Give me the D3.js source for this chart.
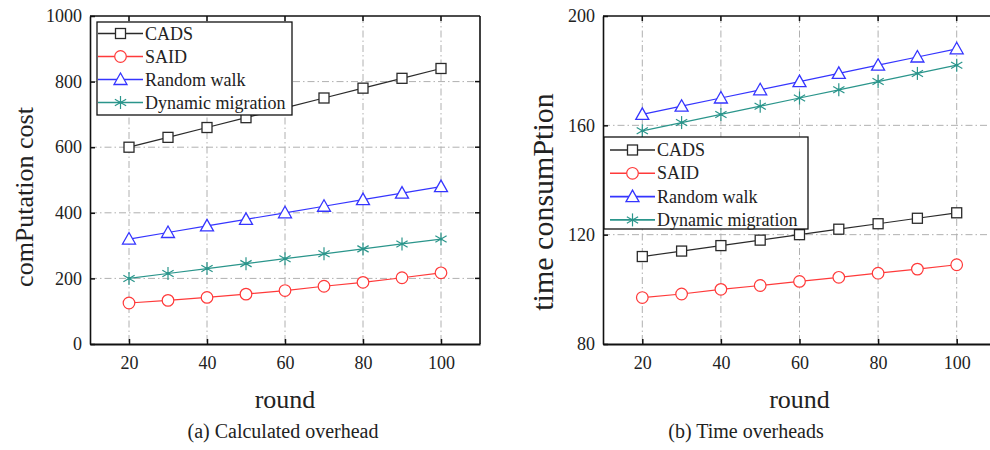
<!DOCTYPE html>
<html>
<head>
<meta charset="utf-8">
<script src="https://cdn.jsdelivr.net/npm/d3@7"></script>
<style>
  html, body { margin: 0; padding: 0; background: #fff; }
  svg { display: block; }
  svg text { font-family: "Liberation Serif", "Times New Roman", serif; }
</style>
</head>
<body>
<svg id="fig" width="990" height="450"></svg>
<script>
// Shared x values (rounds)
const rounds = [20, 30, 40, 50, 60, 70, 80, 90, 100];
const xTicks = [20, 40, 60, 80, 100];

// (a) Calculated overhead: computation cost per round
const costCADS    = [600, 630, 660, 690, 720, 750, 780, 810, 840];
const costSAID    = [125, 133, 142, 152, 163, 176, 188, 202, 217];
const costRandom  = [320, 340, 360, 380, 400, 420, 440, 460, 480];
const costDynamic = [200, 215, 230, 245, 260, 275, 290, 305, 320];
const costTicks   = [0, 200, 400, 600, 800, 1000];

// (b) Time overheads: time consumption per round
const timeCADS    = [112, 114, 116, 118, 120, 122, 124, 126, 128];
const timeSAID    = [97, 98.3, 100, 101.4, 102.9, 104.4, 105.9, 107.4, 109];
const timeRandom  = [164, 167, 170, 173, 176, 179, 182, 185, 188];
const timeDynamic = [158, 161, 164, 167, 170, 173, 176, 179, 182];
const timeTicks   = [80, 120, 160, 200];

const seriesNames = ["CADS", "SAID", "Random walk", "Dynamic migration"];

const style = {
  "CADS":              { color: "#2a2a2a", marker: "square" },
  "SAID":              { color: "#ff3a3a", marker: "circle" },
  "Random walk":       { color: "#3535ff", marker: "triangle" },
  "Dynamic migration": { color: "#2a958b", marker: "star" }
};

const svg = d3.select("#fig");

function drawMarker(g, type, color, x, y) {
  const m = g.append("g").attr("transform", `translate(${x},${y})`);
  if (type === "square") {
    m.append("rect").attr("x", -5).attr("y", -5).attr("width", 10).attr("height", 10)
      .attr("fill", "#fff").attr("stroke", color).attr("stroke-width", 1.3);
  } else if (type === "circle") {
    m.append("circle").attr("r", 5.8)
      .attr("fill", "#fff").attr("stroke", color).attr("stroke-width", 1.2);
  } else if (type === "triangle") {
    m.append("path").attr("d", "M0,-6.5L6.5,5L-6.5,5Z")
      .attr("fill", "#fff").attr("stroke", color).attr("stroke-width", 1.3);
  } else if (type === "star") {
    const r = 6.5;
    [90, 30, -30].forEach(a => {
      const rad = a * Math.PI / 180;
      m.append("line")
        .attr("x1", -r * Math.cos(rad)).attr("y1", -r * Math.sin(rad))
        .attr("x2", r * Math.cos(rad)).attr("y2", r * Math.sin(rad))
        .attr("stroke", color).attr("stroke-width", 1.2);
    });
    m.append("circle").attr("r", 1.4).attr("fill", color);
  }
}

function panel(opt) {
  const { x0, x1, y0, y1, yDomain, yTicks, series, yLabel, yLabelX, yLabelY, yLabelSize,
          caption, captionX, legend } = opt;
  const g = svg.append("g");
  const x = d3.scaleLinear().domain([10, 110]).range([x0, x1]);
  const y = d3.scaleLinear().domain(yDomain).range([y1, y0]);
  const right = Math.min(x1, 990);

  // dash-dot grid
  const grid = g.append("g").attr("stroke", "#b0b0b0").attr("stroke-width", 1)
    .attr("stroke-dasharray", "7,3,1.5,3");
  xTicks.forEach(t => grid.append("line")
    .attr("x1", x(t)).attr("x2", x(t)).attr("y1", y0).attr("y2", y1));
  yTicks.slice(1, -1).forEach(t => grid.append("line")
    .attr("x1", x0).attr("x2", right).attr("y1", y(t)).attr("y2", y(t)));

  // axes with inward ticks
  const bottom = g.append("g").attr("transform", `translate(0,${y1})`)
    .call(d3.axisBottom(x).tickValues(xTicks).tickFormat(d3.format("d"))
      .tickSizeInner(-5).tickSizeOuter(0).tickPadding(12));
  bottom.select(".domain").attr("stroke", "#111").attr("stroke-width", 2.2);
  const left = g.append("g").attr("transform", `translate(${x0},0)`)
    .call(d3.axisLeft(y).tickValues(yTicks).tickFormat(d3.format("d"))
      .tickSizeInner(-5).tickSizeOuter(0).tickPadding(8));
  left.select(".domain").attr("stroke", "#111").attr("stroke-width", 1.6);
  [bottom, left].forEach(a => {
    a.attr("font-family", null).attr("font-size", 18);
    a.selectAll(".tick line").attr("stroke", "#111").attr("stroke-width", 1.5);
    a.selectAll(".tick text").attr("fill", "#222");
  });
  // top and right frame with inward ticks
  g.append("line").attr("x1", x0).attr("x2", right).attr("y1", y0).attr("y2", y0)
    .attr("stroke", "#111").attr("stroke-width", 1.6);
  xTicks.forEach(t => g.append("line").attr("x1", x(t)).attr("x2", x(t))
    .attr("y1", y0).attr("y2", y0 + 5).attr("stroke", "#111").attr("stroke-width", 1.5));
  if (x1 <= 990) {
    g.append("line").attr("x1", x1).attr("x2", x1).attr("y1", y0).attr("y2", y1)
      .attr("stroke", "#111").attr("stroke-width", 1.6);
    yTicks.slice(1, -1).forEach(t => g.append("line").attr("x1", x1 - 5).attr("x2", x1)
      .attr("y1", y(t)).attr("y2", y(t)).attr("stroke", "#111").attr("stroke-width", 1.5));
  }

  // series lines and markers
  const line = d3.line().x((d, i) => x(rounds[i])).y(d => y(d));
  series.forEach(s => {
    const st = style[s.name];
    g.append("path").datum(s.values).attr("d", line)
      .attr("fill", "none").attr("stroke", st.color).attr("stroke-width", 1.2);
    s.values.forEach((v, i) => drawMarker(g, st.marker, st.color, x(rounds[i]), y(v)));
  });

  // legend
  const lg = g.append("g");
  lg.append("rect").attr("x", legend.x).attr("y", legend.y)
    .attr("width", legend.w).attr("height", legend.h)
    .attr("fill", "#fff").attr("stroke", "#111").attr("stroke-width", 1.3);
  seriesNames.forEach((name, i) => {
    const st = style[name];
    const cy = legend.y + legend.first + i * legend.step;
    lg.append("line").attr("x1", legend.x + legend.l0).attr("x2", legend.x + legend.l1)
      .attr("y1", cy).attr("y2", cy).attr("stroke", st.color).attr("stroke-width", 1.6);
    drawMarker(lg, st.marker, st.color, legend.x + (legend.l0 + legend.l1) / 2, cy);
    lg.append("text").attr("x", legend.x + legend.l1 + 2).attr("y", cy + 6)
      .attr("font-size", 18).attr("fill", "#222").text(name);
  });

  // axis titles and caption
  g.append("text").attr("transform", `translate(${yLabelX},${yLabelY}) rotate(-90)`)
    .attr("text-anchor", "middle").attr("font-size", yLabelSize).attr("fill", "#222").text(yLabel);
  g.append("text").attr("x", (x0 + x1) / 2).attr("y", 408)
    .attr("text-anchor", "middle").attr("font-size", 26).attr("fill", "#222").text("round");
  g.append("text").attr("x", captionX).attr("y", 438)
    .attr("text-anchor", "middle").attr("font-size", 20).attr("fill", "#222").text(caption);
}

panel({
  x0: 90, x1: 480, y0: 16, y1: 344,
  yDomain: [0, 1000], yTicks: costTicks,
  series: [
    { name: "CADS", values: costCADS },
    { name: "SAID", values: costSAID },
    { name: "Random walk", values: costRandom },
    { name: "Dynamic migration", values: costDynamic }
  ],
  yLabel: "comPutation cost", yLabelX: 33, yLabelY: 197, yLabelSize: 26,
  caption: "(a) Calculated overhead", captionX: 283,
  legend: { x: 97, y: 22, w: 195, h: 93, first: 11.5, step: 23, l0: 1, l1: 46 }
});

panel({
  x0: 603, x1: 996, y0: 16, y1: 344,
  yDomain: [80, 200], yTicks: timeTicks,
  series: [
    { name: "CADS", values: timeCADS },
    { name: "SAID", values: timeSAID },
    { name: "Random walk", values: timeRandom },
    { name: "Dynamic migration", values: timeDynamic }
  ],
  yLabel: "time consumPtion", yLabelX: 553, yLabelY: 202, yLabelSize: 30,
  caption: "(b) Time overheads", captionX: 746,
  legend: { x: 604, y: 137, w: 204, h: 92, first: 13, step: 23.3, l0: 6, l1: 51 }
});
</script>
</body>
</html>
